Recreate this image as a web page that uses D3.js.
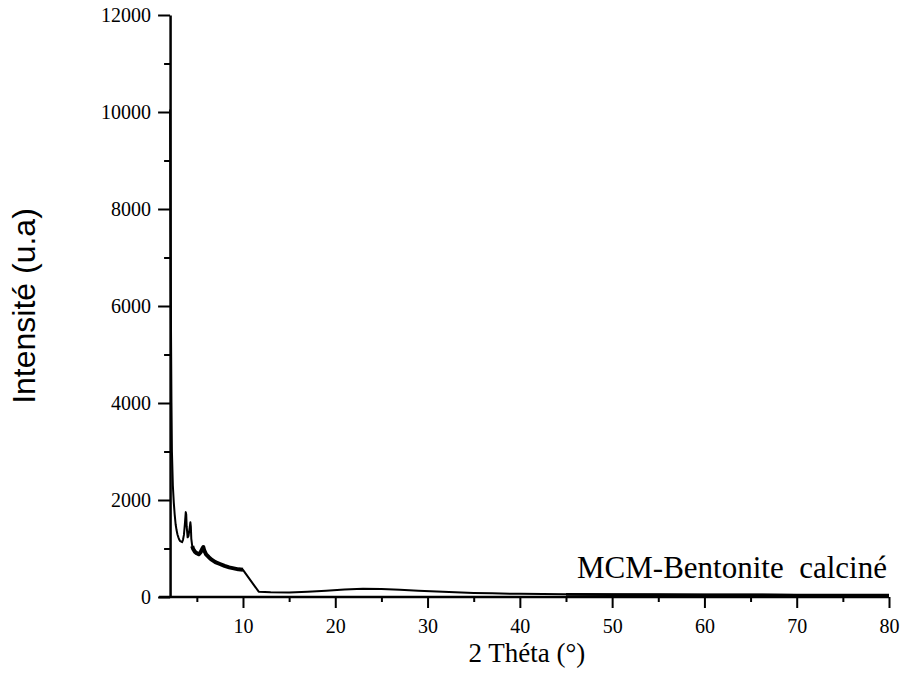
<!DOCTYPE html>
<html>
<head>
<meta charset="utf-8">
<script src="https://cdn.jsdelivr.net/npm/d3@7"></script>
<style>
  body { margin: 0; background: #fff; }
  svg { display: block; }
</style>
</head>
<body>
<script>
// diffractogram points
var theta = [2.1, 2.12, 2.15, 2.2, 2.25, 2.3, 2.4, 2.5, 2.6, 2.7, 2.8, 2.9, 3.0, 3.1, 3.2, 3.3, 3.4, 3.5, 3.6, 3.7,
             3.8, 3.85, 3.9, 4.0, 4.1, 4.2, 4.3, 4.35, 4.4, 4.5, 4.6, 4.8, 5.0, 5.2, 5.4, 5.6, 5.7, 5.8, 6.0, 6.3,
             6.6, 7.0, 7.5, 8.0, 8.5, 9.0, 9.5, 10.0, 11.7, 13, 15, 17, 19, 21, 23, 25, 27, 29, 31, 33,
             35, 37, 40, 45, 50, 55, 60, 65, 70, 75, 80];
var intensity = [10050, 9000, 7500, 5500, 4000, 3000, 2300, 1950, 1700, 1500, 1380, 1290, 1230, 1180, 1150, 1140, 1130, 1180, 1280, 1500,
                 1750, 1700, 1450, 1230, 1260, 1400, 1540, 1450, 1200, 1050, 990, 930, 900, 880, 920, 1000, 1030, 960, 880, 820,
                 770, 720, 680, 640, 610, 590, 570, 560, 110, 100, 95, 110, 130, 155, 170, 165, 150, 130, 115, 100,
                 85, 75, 65, 55, 50, 48, 45, 45, 42, 42, 40];

var xMajor = [10, 20, 30, 40, 50, 60, 70, 80];
var xMinor = [5, 15, 25, 35, 45, 55, 65, 75];
var yMajor = [0, 2000, 4000, 6000, 8000, 10000, 12000];
var yMinor = [1000, 3000, 5000, 7000, 9000, 11000];

var width = 906, height = 695;
var serif = "'Liberation Serif', 'Times New Roman', serif";

var svg = d3.select("body").append("svg")
  .attr("width", width)
  .attr("height", height);

var x = d3.scaleLinear().domain([0, 80]).range([150.7, 889]);
var y = d3.scaleLinear().domain([0, 12000]).range([597, 15]);
var xStart = 2.1;

// y axis
var yAx = svg.append("g").attr("transform", "translate(" + x(xStart) + ",0)")
  .call(d3.axisLeft(y).tickValues(yMajor).tickSize(12).tickSizeOuter(0).tickPadding(7)
    .tickFormat(d3.format("d")));
yAx.select(".domain").attr("stroke-width", 2.5);
yAx.selectAll(".tick line").attr("stroke-width", 2);
yAx.selectAll(".tick text").attr("font-family", serif)
  .attr("font-size", 20).attr("fill", "#000");

svg.append("g").attr("transform", "translate(" + x(xStart) + ",0)")
  .call(d3.axisLeft(y).tickValues(yMinor).tickSize(6).tickFormat(""))
  .call(function(g) { g.select(".domain").remove(); })
  .selectAll(".tick line").attr("stroke-width", 2);

// x axis
var xAx = svg.append("g").attr("transform", "translate(0," + y(0) + ")")
  .call(d3.axisBottom(x).tickValues(xMajor).tickSize(11).tickSizeOuter(0).tickPadding(11));
xAx.select(".domain").remove();
xAx.selectAll(".tick line").attr("stroke-width", 2);
xAx.selectAll(".tick text").attr("font-family", serif)
  .attr("font-size", 20).attr("fill", "#000");

svg.append("g").attr("transform", "translate(0," + y(0) + ")")
  .call(d3.axisBottom(x).tickValues(xMinor).tickSize(5).tickFormat(""))
  .call(function(g) { g.select(".domain").remove(); })
  .selectAll(".tick line").attr("stroke-width", 2);

svg.append("line")
  .attr("x1", x(xStart) - 11).attr("x2", x(80))
  .attr("y1", y(0)).attr("y2", y(0))
  .attr("stroke", "#000").attr("stroke-width", 2.5);

// curve
var line = d3.line()
  .x(function(d) { return x(d[0]); })
  .y(function(d) { return y(d[1]); });

var pts = theta.map(function(t, i) { return [t, intensity[i]]; });

svg.append("path")
  .attr("d", line(pts))
  .attr("fill", "none")
  .attr("stroke", "#000")
  .attr("stroke-width", 2)
  .attr("stroke-linejoin", "round");

// the noisy low-angle stretch is drawn heavier
svg.append("path")
  .attr("d", line(pts.filter(function(p) { return p[0] >= 4.5 && p[0] <= 10; })))
  .attr("fill", "none")
  .attr("stroke", "#000")
  .attr("stroke-width", 4)
  .attr("stroke-linejoin", "round");

svg.append("path")
  .attr("d", line(pts.filter(function(p) { return p[0] >= 45; })))
  .attr("fill", "none")
  .attr("stroke", "#000")
  .attr("stroke-width", 2.6);

// labels
svg.append("text")
  .attr("transform", "translate(35," + y(6000) + ") rotate(-90)")
  .attr("text-anchor", "middle")
  .attr("font-family", "'Liberation Sans', Arial, sans-serif")
  .attr("font-size", 32)
  .text("Intensité (u.a)");

svg.append("text")
  .attr("x", 527).attr("y", 662)
  .attr("text-anchor", "middle")
  .attr("font-family", serif)
  .attr("font-size", 27)
  .text("2 Théta (°)");

svg.append("text")
  .attr("x", 577).attr("y", 578)
  .attr("font-family", serif)
  .attr("font-size", 31)
  .attr("xml:space", "preserve")
  .style("white-space", "pre")
  .text("MCM-Bentonite  calciné");
</script>
</body>
</html>
